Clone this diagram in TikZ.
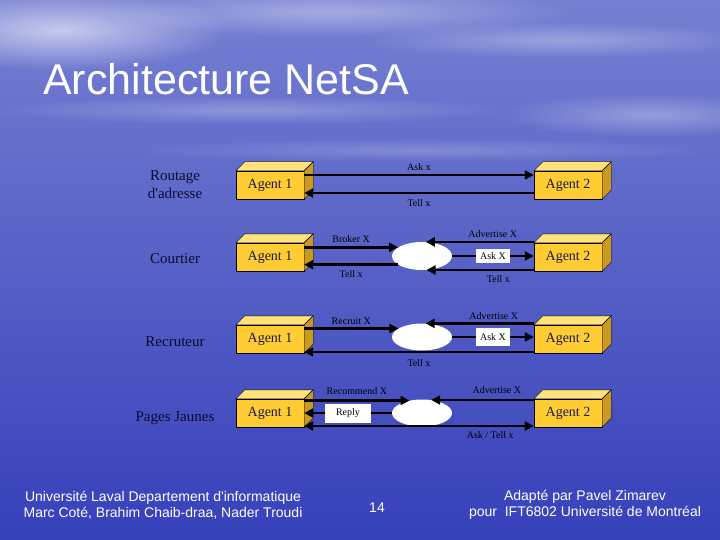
\documentclass[tikz,border=0pt]{standalone}
\usepackage{fontspec}
\setmainfont{Liberation Serif}[Ligatures=TeXOff]
\newfontfamily\arialfont{Liberation Sans}
\usetikzlibrary{arrows.meta,shapes.geometric,fadings}
\definecolor{skytop}{RGB}{118,128,210}
\definecolor{seamid}{RGB}{76,86,200}
\definecolor{seabot}{RGB}{54,64,186}
\definecolor{agfront}{HTML}{FFCC33}
\definecolor{agtopc}{HTML}{FFE27A}
\definecolor{agsidec}{HTML}{C99A1E}
\definecolor{agtext}{HTML}{1A1A40}
\definecolor{rowtext}{HTML}{0C0C2E}
\tikzfading[name=cloudfade, inner color=transparent!0, outer color=transparent!100]

% top and side faces of an agent box
\newcommand{\agentfaces}[1]{%
  \filldraw[agtop] (#1.north west) -- ++(9,-9) -- ([shift={(9,-9)}]#1.north east) -- (#1.north east) -- cycle;
  \filldraw[agside] (#1.north east) -- ++(9,-9) -- ([shift={(9,-9)}]#1.south east) -- (#1.south east) -- cycle;}

\tikzset{
  >={Triangle[length=9pt,width=9pt]},
  agent/.style={draw=black, thin, fill=agfront, minimum width=68pt, minimum height=28pt, inner sep=0pt,
    font=\fontsize{14}{16}\selectfont, text=agtext},
  agtop/.style={draw=black, thin, fill=agtopc},
  agside/.style={draw=black, thin, fill=agsidec},
  hub/.style={ellipse, fill=white, minimum width=60pt, minimum height=28pt, inner sep=0pt},
  msg/.style={line width=2.8pt, black, ->},
  lbl/.style={font=\fontsize{10}{12}\selectfont, text=black, inner sep=2pt},
  tagbox/.style={fill=white, font=\fontsize{10}{12}\selectfont, text=black, minimum width=34pt, minimum height=16pt, inner sep=2pt},
  rowname/.style={font=\fontsize{15}{18}\selectfont, text=rowtext, align=center},
  foot/.style={font=\arialfont\fontsize{14}{16}\selectfont, text=white, align=center},
  streak/.style={white, path fading=cloudfade},
}

\begin{document}
\begin{tikzpicture}[x=1pt, y=-1pt]
\useasboundingbox (0,0) rectangle (720,540);
% background sky and sea
\shade[top color=skytop, middle color=seamid, bottom color=seabot] (0,0) rectangle (720,540);
\fill[streak, opacity=0.6] (60,30) ellipse (170 and 40);
\fill[streak, opacity=0.35] (330,12) ellipse (240 and 25);
\fill[streak, opacity=0.3] (560,40) ellipse (200 and 18);
\fill[streak, opacity=0.3] (650,115) ellipse (150 and 22);
\fill[streak, opacity=0.25] (250,110) ellipse (260 and 14);
\fill[streak, opacity=0.2] (420,150) ellipse (300 and 12);

\node[anchor=base west, font=\arialfont\fontsize{43}{48}\selectfont, text=white, inner sep=0pt] (ttl) at (43,95) {Architecture NetSA};

% row names
\node[rowname] (n1) at (175,185) {Routage\\d'adresse};
\node[rowname] (n2) at (175,259) {Courtier};
\node[rowname] (n3) at (175,342) {Recruteur};
\node[rowname] (n4) at (175,418) {Pages Jaunes};

% routage
\node[agent] (r1a) at (270,185) {Agent 1};
\node[agent] (r1b) at (568,185) {Agent 2};
\agentfaces{r1a} \agentfaces{r1b}
\draw[msg] ([yshift=10pt]r1a.east) -- ([yshift=10pt]r1b.west) node[lbl, midway, above=1pt] {Ask x};
\draw[msg] ([yshift=-8pt]r1b.west) -- ([yshift=-8pt]r1a.east) node[lbl, midway, below=3pt] {Tell x};

% courtier
\node[agent] (r2a) at (270,257) {Agent 1};
\node[agent] (r2b) at (568,257) {Agent 2};
\agentfaces{r2a} \agentfaces{r2b}
\node[hub] (r2h) at (422,256) {};
\draw[msg] (r2h.160 -| r2a.east) -- (r2h.160) node[lbl, midway, above=1pt] {Broker X};
\draw[msg] (r2h.75 -| r2b.west) -- (r2h.75) node[lbl, pos=0.38, above=1pt] {Advertise X};
\draw[msg] (r2h.east) -- (r2h.east -| r2b.west) node[tagbox, midway, minimum height=14pt] {Ask X};
\draw[msg] (r2h.-72 -| r2b.west) -- (r2h.-72) node[lbl, pos=0.33, below=2pt] {Tell x};
\draw[msg] (r2h.200) -- (r2h.200 -| r2a.east) node[lbl, midway, below=2pt] {Tell x};

% recruteur
\node[agent] (r3a) at (270,339) {Agent 1};
\node[agent] (r3b) at (568,339) {Agent 2};
\agentfaces{r3a} \agentfaces{r3b}
\node[hub, minimum height=27pt] (r3h) at (422,337) {};
\draw[msg] (r3h.160 -| r3a.east) -- (r3h.160) node[lbl, midway, above=0pt] {Recruit X};
\draw[msg] (r3h.75 -| r3b.west) -- (r3h.75) node[lbl, pos=0.37, above=0pt] {Advertise X};
\draw[msg] (r3h.east) -- (r3h.east -| r3b.west) node[tagbox, midway, minimum height=18pt] {Ask X};
\draw[msg] ([yshift=-13pt]r3b.west) -- ([yshift=-13pt]r3a.east) node[lbl, midway, below=4pt] {Tell x};

% pages jaunes
\node[agent] (r4a) at (270,413) {Agent 1};
\node[agent] (r4b) at (568,413) {Agent 2};
\agentfaces{r4a} \agentfaces{r4b}
\node[hub, minimum height=27pt] (r4h) at (422,413) {};
\draw[msg] (r4h.135 -| r4a.east) -- (r4h.135) node[lbl, midway, above=3pt] {Recommend X};
\draw[msg] (r4h.55 -| r4b.west) -- (r4h.55) node[lbl, pos=0.36, above=3pt] {Advertise X};
\draw[msg] (r4h.west) -- (r4h.west -| r4a.east) node[tagbox, midway, minimum width=46pt, minimum height=19pt] {Reply};
\draw[msg, <->] ([yshift=-13pt]r4a.east) -- ([yshift=-13pt]r4b.west) node[lbl, pos=0.81, below=2pt] {Ask / Tell x};

% footer
\node[foot] (fl) at (163,505) {Université Laval Departement d'informatique\\Marc Coté, Brahim Chaib-draa, Nader Troudi};
\node[foot] (pg) at (377,508) {14};
\node[foot] (fr) at (585,505) {Adapté par Pavel Zimarev\\pour\ \ IFT6802 Université de Montréal};
\end{tikzpicture}
\end{document}
